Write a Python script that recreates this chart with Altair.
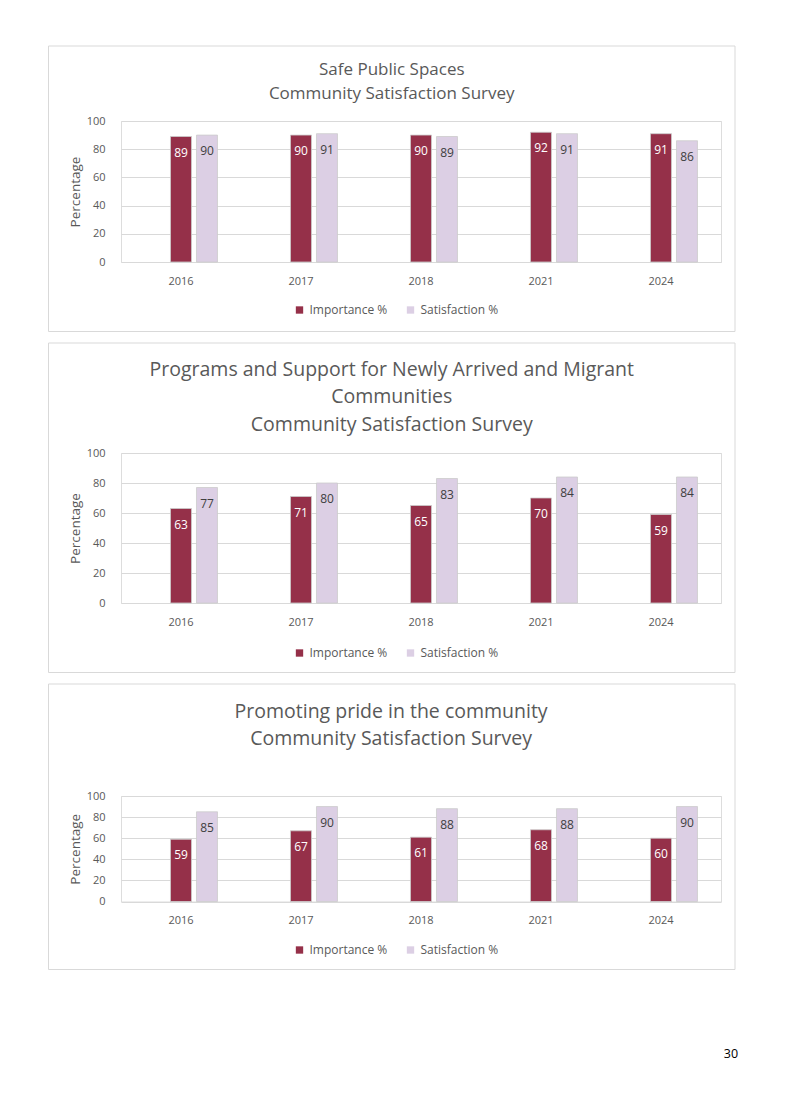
import altair as alt
import pandas as pd

YEARS = ["2016", "2017", "2018", "2021", "2024"]
SERIES = ["Importance %", "Satisfaction %"]
Y_TICKS = [0, 20, 40, 60, 80, 100]

TITLE_SAFE = ["Safe Public Spaces", "Community Satisfaction Survey"]
TITLE_MIGRANT = ["Programs and Support for Newly Arrived and Migrant", "Communities",
                 "Community Satisfaction Survey"]
TITLE_PRIDE = ["Promoting pride in the community", "Community Satisfaction Survey"]

SAFE_IMPORTANCE = [89, 90, 90, 92, 91]
SAFE_SATISFACTION = [90, 91, 89, 91, 86]
MIGRANT_IMPORTANCE = [63, 71, 65, 70, 59]
MIGRANT_SATISFACTION = [77, 80, 83, 84, 84]
PRIDE_IMPORTANCE = [59, 67, 61, 68, 60]
PRIDE_SATISFACTION = [85, 90, 88, 88, 90]

PAGE_NUMBER = "30"

C_IMP = "#953049"
C_SAT = "#DCCFE4"
GRAY = "#595959"
GRID = "#D9D9D9"
FONT = "Open Sans"


def make_df(imp, sat):
    rows = []
    for y, a, b in zip(YEARS, imp, sat):
        rows.append({"year": y, "series": SERIES[0], "value": a})
        rows.append({"year": y, "series": SERIES[1], "value": b})
    return pd.DataFrame(rows)


def panel(title, imp, sat, height, frame_top, frame_bottom, title_size, title_lh,
          title_offset, legend_y, title_dx=0, page=False):
    df = make_df(imp, sat)
    base = alt.Chart(df).encode(
        x=alt.X("year:N", sort=YEARS,
                scale=alt.Scale(domain=YEARS, paddingInner=0, paddingOuter=0),
                axis=alt.Axis(title=None, labelAngle=0, ticks=False, tickSize=0,
                              domain=False, grid=False, labelPadding=13,
                              labelColor=GRAY, labelFontSize=11, labelFont=FONT)),
        xOffset=alt.XOffset("series:N",
                            scale=alt.Scale(domain=["blank"] + SERIES,
                                            paddingInner=0.192, paddingOuter=0.904)),
        y=alt.Y("value:Q", scale=alt.Scale(domain=[0, 100], nice=False),
                axis=alt.Axis(values=Y_TICKS, title="Percentage", ticks=False,
                              tickSize=0, domain=False, grid=True, gridColor=GRID,
                              gridWidth=1, labelPadding=16, labelColor=GRAY,
                              labelFontSize=11, labelFont=FONT, titleColor=GRAY,
                              titleFontSize=13.5, titleFont=FONT,
                              titleFontWeight="normal", titlePadding=4)),
    )
    bars = base.mark_bar(stroke="#CCCCCC", strokeWidth=0.8).encode(
        color=alt.Color("series:N",
                        scale=alt.Scale(domain=SERIES, range=[C_IMP, C_SAT]),
                        legend=alt.Legend(title=None, orient="none", direction="horizontal",
                                          legendX=172.5, legendY=legend_y,
                                          symbolType="square", symbolSize=54,
                                          symbolStrokeWidth=0, labelFontSize=12,
                                          labelColor=GRAY, labelFont=FONT,
                                          labelOffset=4, columnPadding=17))
    )
    labels = base.mark_text(baseline="middle", dy=16, fontSize=12, font=FONT).encode(
        text="value:Q",
        color=alt.condition(alt.datum.series == SERIES[0], alt.value("white"),
                            alt.value("#404040")),
    )
    frame = alt.Chart(pd.DataFrame({"f": [0]})).mark_rect(
        filled=False, stroke=GRID, strokeWidth=1
    ).encode(x=alt.value(-72.5), x2=alt.value(614), y=alt.value(frame_top),
             y2=alt.value(frame_bottom))
    layers = [frame, bars, labels]
    if page:
        pg = alt.Chart(pd.DataFrame({"p": [PAGE_NUMBER]})).mark_text(
            fontSize=12.5, font=FONT, color="#000000", align="center", baseline="middle"
        ).encode(text="p:N", x=alt.value(610), y=alt.value(258))
        layers.append(pg)
    return alt.layer(*layers).properties(
        width=600, height=height,
        title=alt.TitleParams(text=title, fontSize=title_size, lineHeight=title_lh,
                              color=GRAY, font=FONT, fontWeight="normal",
                              anchor="middle", frame="bounds", offset=title_offset,
                              dx=title_dx),
    )


p1 = panel(TITLE_SAFE, SAFE_IMPORTANCE, SAFE_SATISFACTION, 141, -75, 210.5,
           17, 24, -57, 183)
p2 = panel(TITLE_MIGRANT, MIGRANT_IMPORTANCE, MIGRANT_SATISFACTION, 150, -110, 219.5,
           19.5, 27.5, -92.5, 194)
p3 = panel(TITLE_PRIDE, PRIDE_IMPORTANCE, PRIDE_SATISFACTION, 105.5, -112, 173.5,
           19.5, 27.5, -66, 148, title_dx=-2, page=True)

chart = alt.vconcat(p1, p2, p3, spacing=9).resolve_scale(
    color="independent", x="independent", y="independent", xOffset="independent"
).resolve_legend(color="independent").properties(
    padding={"left": 39, "top": 37, "right": 5, "bottom": 5}
).configure_view(stroke=None).configure(font=FONT, background="white")

chart.save("out.html", embed_options={"renderer": "svg", "actions": False})
